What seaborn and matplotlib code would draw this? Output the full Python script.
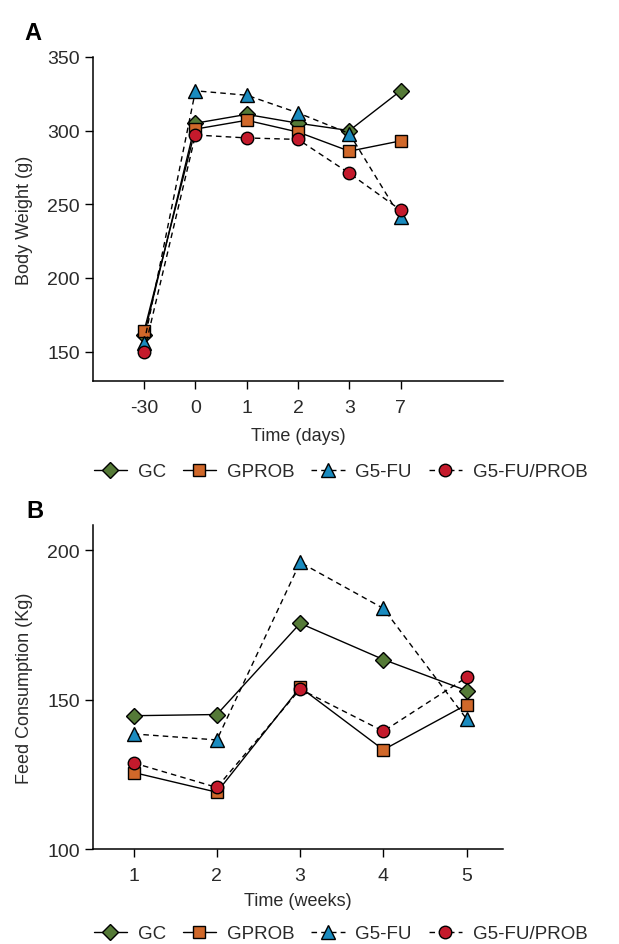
import matplotlib
matplotlib.use("Agg")
import matplotlib.pyplot as plt
import seaborn as sns
import pandas as pd

# Panel A: body weight (g)
days = ["-30", "0", "1", "2", "3", "7"]
weight_gc = [161, 305, 311, 305, 300, 327]
weight_gprob = [164, 301, 307, 299, 286, 293]
weight_g5fu = [156, 327, 324, 312, 298, 241]
weight_g5fu_prob = [150, 297, 295, 294, 271, 246]

# Panel B: feed consumption (Kg)
weeks = [1, 2, 3, 4, 5]
feed_gc = [144.6, 145.0, 175.5, 163.4, 153.0]
feed_gprob = [125.6, 119.0, 154.1, 133.2, 148.3]
feed_g5fu = [138.5, 136.5, 195.9, 180.5, 143.5]
feed_g5fu_prob = [128.8, 120.6, 153.5, 139.4, 157.4]

groups = ["GC", "GPROB", "G5-FU", "G5-FU/PROB"]

sns.set_style("ticks")
plt.rcParams["font.family"] = ["Liberation Sans", "DejaVu Sans"]
plt.rcParams["text.color"] = "#2a2a2a"
plt.rcParams["axes.labelcolor"] = "#2a2a2a"
plt.rcParams["xtick.labelcolor"] = "#2a2a2a"
plt.rcParams["ytick.labelcolor"] = "#2a2a2a"

# marker, face colour, size, line style per group
styles = {
    "GC": ("D", "#557a37", 8.5, "-"),
    "GPROB": ("s", "#d0682a", 9, "-"),
    "G5-FU": ("^", "#1a8bbf", 9.5, (0, (4, 3))),
    "G5-FU/PROB": ("o", "#c41a2c", 9, (0, (4, 3))),
}


def draw_panel(ax, x, series):
    for name, y in zip(groups, series):
        marker, face, ms, ls = styles[name]
        df = pd.DataFrame({"x": x, "y": y})
        sns.lineplot(data=df, x="x", y="y", ax=ax, color="black", linewidth=1,
                     linestyle=ls, marker=marker, markersize=ms,
                     markerfacecolor=face, markeredgecolor="black",
                     markeredgewidth=1, sort=False, label=name, legend=False)
    sns.despine(ax=ax)
    ax.tick_params(labelsize=14, length=6, width=1, color="black")
    ax.tick_params(axis="x", pad=7)
    for s in ["left", "bottom"]:
        ax.spines[s].set_linewidth(1.1)
        ax.spines[s].set_color("black")


fig = plt.figure(figsize=(6.19, 9.45), dpi=100)
ax_a = fig.add_axes([0.150, 0.5958, 0.663, 0.3429])
ax_b = fig.add_axes([0.150, 0.1005, 0.663, 0.3432])

draw_panel(ax_a, days, [weight_gc, weight_gprob, weight_g5fu, weight_g5fu_prob])
ax_a.set_xlim(-1, 7)
ax_a.set_ylim(130, 350)
ax_a.set_yticks([150, 200, 250, 300, 350])
ax_a.set_xlabel("Time (days)", fontsize=13, labelpad=8)
ax_a.set_ylabel("Body Weight (g)", fontsize=13, labelpad=10)

draw_panel(ax_b, weeks, [feed_gc, feed_gprob, feed_g5fu, feed_g5fu_prob])
ax_b.set_xlim(0.51, 5.44)
ax_b.set_ylim(100, 208.5)
ax_b.set_xticks(weeks)
ax_b.set_yticks([100, 150, 200])
ax_b.set_xlabel("Time (weeks)", fontsize=13, labelpad=6)
ax_b.set_ylabel("Feed Consumption (Kg)", fontsize=13, labelpad=10)

fig.text(0.053, 0.965, "A", fontsize=17, fontweight="bold", color="black",
         ha="center", va="center")
fig.text(0.056, 0.459, "B", fontsize=17, fontweight="bold", color="black",
         ha="center", va="center")

handles, labels = ax_a.get_legend_handles_labels()
for yy in [0.500, 0.011]:
    fig.legend(handles, labels, loc="center", bbox_to_anchor=(0.550, yy),
               ncol=4, frameon=False, fontsize=13.5, handlelength=1.8,
               handletextpad=0.55, columnspacing=0.9, borderpad=0)

fig.savefig("out.png", dpi=100)
